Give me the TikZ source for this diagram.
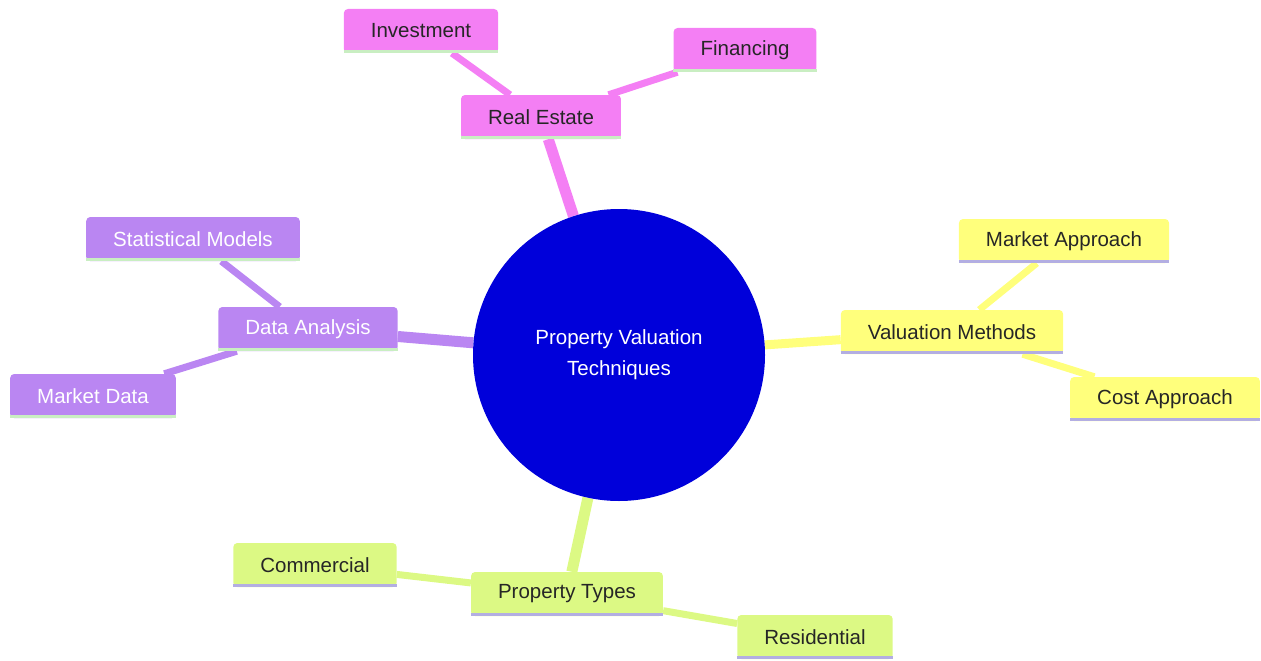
\documentclass[tikz,border=0pt]{standalone}
\usepackage{fontspec}
\setmainfont{Liberation Sans}
\usetikzlibrary{backgrounds}

\definecolor{rootblue}{HTML}{0000DA}
\definecolor{pinkfill}{HTML}{F47FF4}
\definecolor{purplefill}{HTML}{BA86F2}
\definecolor{yellowfill}{HTML}{FFFF7C}
\definecolor{greenfill}{HTML}{DCF984}
\definecolor{greenline}{HTML}{C9EEC2}
\definecolor{lavline}{HTML}{B3AEE2}

\tikzset{
  topic/.style={rounded corners=4pt, inner xsep=27pt, minimum height=44pt,
    font=\fontsize{20.5}{24}\selectfont, text=black!85},
  branch/.style={line width=11pt},
  twig/.style={line width=7pt}
}

\begin{document}
\begin{tikzpicture}[x=1pt, y=-1pt]
  \useasboundingbox (0,0) rectangle (1261,661);

  % centre
  \node[circle, fill=rootblue, minimum size=292pt, text=white, align=center,
    font=\fontsize{20.5}{31}\selectfont] (root) at (619,355)
    {Property Valuation\\Techniques};

  % real estate
  \node[topic, fill=pinkfill] (realestate) at (541,117) {Real Estate};
  \node[topic, fill=pinkfill] (investment) at (421,31) {Investment};
  \node[topic, fill=pinkfill] (financing) at (745,50) {Financing};

  % data analysis
  \node[topic, fill=purplefill, text=white] (dataanalysis) at (308,329) {Data Analysis};
  \node[topic, fill=purplefill, text=white] (statmodels) at (193,239) {Statistical Models};
  \node[topic, fill=purplefill, text=white] (marketdata) at (93,396) {Market Data};

  % valuation methods
  \node[topic, fill=yellowfill] (valmethods) at (952,332) {Valuation Methods};
  \node[topic, fill=yellowfill] (marketappr) at (1064,241) {Market Approach};
  \node[topic, fill=yellowfill] (costappr) at (1165,399) {Cost Approach};

  % property types
  \node[topic, fill=greenfill] (proptypes) at (567,594) {Property Types};
  \node[topic, fill=greenfill] (commercial) at (315,565) {Commercial};
  \node[topic, fill=greenfill] (residential) at (815,637) {Residential};

  \begin{scope}[on background layer]
    \draw[branch, pinkfill] (root) -- (realestate);
    \draw[twig, pinkfill] (realestate) -- (investment);
    \draw[twig, pinkfill] (realestate) -- (financing);
    \draw[branch, purplefill] (root) -- (dataanalysis);
    \draw[twig, purplefill] (dataanalysis) -- (statmodels);
    \draw[twig, purplefill] (dataanalysis) -- (marketdata);
    \draw[line width=9pt, yellowfill] (root) -- (valmethods);
    \draw[twig, yellowfill] (valmethods) -- (marketappr);
    \draw[twig, yellowfill] (valmethods) -- (costappr);
    \draw[branch, greenfill] (root) -- (proptypes);
    \draw[twig, greenfill] (proptypes) -- (commercial);
    \draw[twig, greenfill] (proptypes) -- (residential);
  \end{scope}

  % bottom lines
  \foreach \n in {realestate, investment, financing, dataanalysis, statmodels, marketdata}
    \draw[line width=3pt, greenline] ([yshift=1.5pt]\n.south west) -- ([yshift=1.5pt]\n.south east);
  \foreach \n in {valmethods, marketappr, costappr, proptypes, commercial, residential}
    \draw[line width=3pt, lavline] ([yshift=1.5pt]\n.south west) -- ([yshift=1.5pt]\n.south east);
\end{tikzpicture}
\end{document}
